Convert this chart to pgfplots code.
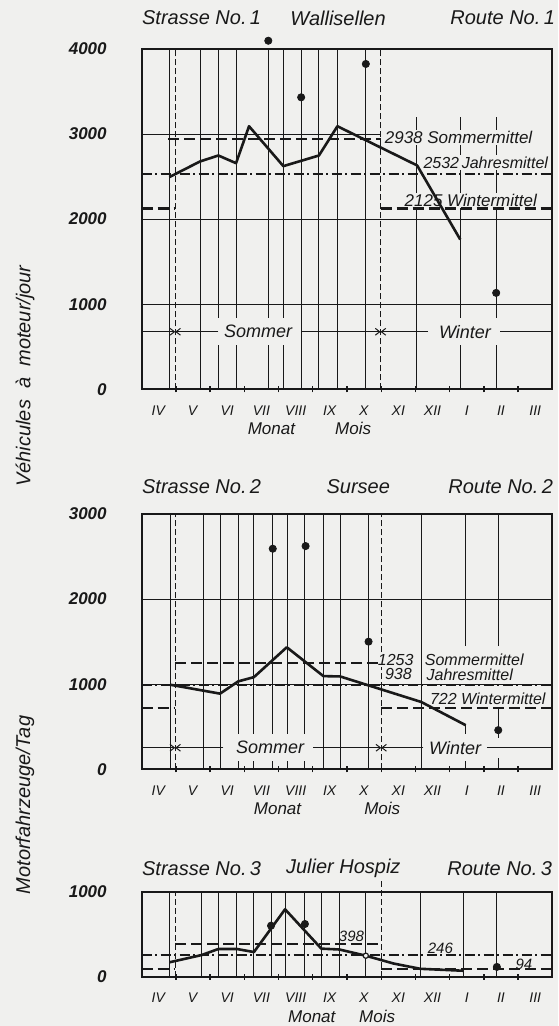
\documentclass[border=0pt]{standalone}
\usepackage{fontspec}
\setmainfont{Liberation Sans}
\usepackage{pgfplots}
\pgfplotsset{compat=1.18}
\usetikzlibrary{arrows.meta}
\definecolor{paper}{RGB}{240,240,238}
\definecolor{ink}{RGB}{25,25,25}

\pgfplotsset{
  chart/.style={
    scale only axis, width=205.3pt,
    xmin=0, xmax=12, ymin=0,
    clip=false,
    axis line style={line width=0.95pt, ink},
    xtick={0.5,1.5,...,11.5},
    xticklabels={\textit{IV},\textit{V},\textit{VI},\textit{VII},\textit{VIII},\textit{IX},\textit{X},\textit{XI},\textit{XII},\textit{I},\textit{II},\textit{III}},
    xticklabel style={font=\fontsize{7}{8}\selectfont, yshift=-4.7pt, text=ink},
    minor xtick={1,...,11},
    major tick length=0pt, minor tick length=3pt,
    tick align=center,
    xtick pos=bottom, ytick pos=left,
    minor tick style={line width=0.7pt, ink},
    yticklabel style={font=\fontsize{8.5}{10}\selectfont, xshift=-14pt, text=ink},
  },
}
\tikzset{
  vline/.style={line width=0.5pt, ink},
  season/.style={line width=0.55pt, ink, dash pattern=on 3pt off 1.5pt},
  mean/.style={line width=1.15pt, ink, dash pattern=on 5.5pt off 2.5pt},
  yearmean/.style={line width=1.1pt, ink, dash pattern=on 5pt off 1.8pt on 0.9pt off 1.8pt},
  curve/.style={line width=1.3pt, ink, line join=round},
  lbl/.style={font=\itshape\fontsize{8.5}{10}\selectfont, fill=paper, inner sep=0.6pt, text=ink},
  seas/.style={font=\itshape\fontsize{9}{10}\selectfont, fill=paper, inner xsep=4pt, inner ysep=3.5pt, text=ink},
  ttl/.style={font=\itshape\fontsize{10}{12}\selectfont, inner sep=0pt, text=ink},
  xl/.style={font=\itshape\fontsize{8.5}{10}\selectfont, inner sep=0pt, text=ink},
  arr/.style={line width=0.5pt, ink, -{Straight Barb[length=2.2pt,width=3.4pt]}},
}

\begin{document}
\begin{tikzpicture}
\useasboundingbox (0,0) rectangle (279pt,513pt);
\fill[paper] (0,0) rectangle (279pt,513pt);

\node[rotate=90, font=\itshape\fontsize{10}{12}\selectfont, text=ink] at (12.5pt,325pt) {Véhicules\ \ à\ \ moteur/jour};
\node[rotate=90, font=\itshape\fontsize{10}{12}\selectfont, text=ink] at (12.5pt,110.5pt) {Motorfahrzeuge/Tag};

% ---------------- Panel 1 ----------------
\begin{axis}[chart, at={(70.85pt,318.35pt)}, anchor=south west, height=170.15pt, ymax=4000,
  ytick={0,1000,2000,3000,4000},
  yticklabels={\textbf{\textit{0}},\textbf{\textit{1000}},\textbf{\textit{2000}},\textbf{\textit{3000}},\textbf{\textit{4000}}}]
\draw[vline] (0,1000) -- (12,1000);
\draw[vline] (0,2000) -- (12,2000);
\draw[vline] (0,3000) -- (6.98,3000);
\addplot[ycomb, vline, mark=none] coordinates {(0.807,4000) (1.705,4000) (2.24,4000) (2.757,4000) (3.70,4000) (4.14,4000) (4.66,4000) (5.18,4000) (5.72,4000) (6.55,4000) (8.02,3200) (9.31,3200) (10.36,3200)};
\draw[season] (0.98,0) -- (0.98,4000);
\draw[season] (6.98,0) -- (6.98,4000);
\node[lbl, anchor=west] at (7.06,2963) {2938 Sommermittel};
\node[lbl, anchor=west, font=\itshape\fontsize{8}{10}\selectfont] at (8.19,2666) {2532\,Jahresmittel};
\node[lbl, anchor=west] at (7.64,2221) {2125 Wintermittel};
\node[seas] at (3.40,676) {Sommer};
\node[seas] at (9.45,676) {Winter};
\draw[arr] (0,676) -- (0.98,676);
\draw[arr] (2.24,676) -- (0.98,676);
\draw[arr] (4.68,676) -- (6.98,676);
\draw[arr] (8.37,676) -- (6.98,676);
\draw[vline] (10.48,676) -- (12,676);
\addplot[mean, mark=none] coordinates {(0.78,2938) (6.98,2938)};
\addplot[yearmean, mark=none] coordinates {(0,2532) (12,2532)};
\addplot[mean, mark=none] coordinates {(0,2125) (0.98,2125)};
\addplot[mean, mark=none] coordinates {(6.98,2125) (12,2125)};
\addplot[curve, mark=none] coordinates {(0.807,2494) (1.705,2678) (2.24,2748) (2.757,2658) (3.137,3092) (4.14,2623) (5.18,2748) (5.72,3092) (8.05,2631) (9.31,1760)};
\addplot[only marks, mark=*, mark size=1.8pt, ink] coordinates {(3.70,4097) (4.66,3432) (6.55,3824) (10.36,1133)};
\node[ttl, anchor=west, yshift=15.5pt] at (rel axis cs:0,1) {Strasse No.\,1};
\node[ttl, yshift=15.5pt] at (5.74,4000) {Wallisellen};
\node[ttl, anchor=east, yshift=15.5pt, xshift=1.5pt] at (rel axis cs:1,1) {Route No.\,1};
\node[xl, yshift=-19.5pt] at (3.79,0) {Monat};
\node[xl, yshift=-19.5pt] at (6.18,0) {Mois};
\end{axis}

% ---------------- Panel 2 ----------------
\begin{axis}[chart, at={(70.85pt,128.35pt)}, anchor=south west, height=127.65pt, ymax=3000,
  ytick={0,1000,2000,3000},
  yticklabels={\textbf{\textit{0}},\textbf{\textit{1000}},\textbf{\textit{2000}},\textbf{\textit{3000}}}]
\draw[vline] (0,1000) -- (12,1000);
\draw[vline] (0,2000) -- (12,2000);
\addplot[ycomb, vline, mark=none] coordinates {(0.83,3000) (1.80,3000) (2.31,3000) (2.83,3000) (3.28,3000) (3.83,3000) (4.26,3000) (4.77,3000) (5.31,3000) (5.80,3000) (6.63,3000) (8.17,3000)};
\draw[vline] (9.47,1446) -- (9.47,3000);
\draw[vline] (9.47,518) -- (9.47,0);
\draw[vline] (10.42,1446) -- (10.42,3000);
\draw[vline] (10.42,722) -- (10.42,370);
\draw[vline] (10.42,130) -- (10.42,0);
\draw[season] (0.98,0) -- (0.98,3000);
\draw[season] (7,0) -- (7,3000);
\node[lbl, anchor=east, font=\itshape\fontsize{8}{10}\selectfont] at (7.99,1287) {1253};
\node[lbl, anchor=west, font=\itshape\fontsize{8}{10}\selectfont] at (8.23,1287) {Sommermittel};
\node[lbl, anchor=east, font=\itshape\fontsize{8}{10}\selectfont] at (7.94,1115) {938};
\node[lbl, anchor=west, font=\itshape\fontsize{8}{10}\selectfont] at (8.28,1115) {Jahresmittel};
\node[lbl, anchor=west, font=\itshape\fontsize{8}{10}\selectfont] at (8.38,830) {722 Wintermittel};
\node[seas] at (3.75,253) {Sommer};
\node[seas, inner xsep=2pt] at (9.16,253) {Winter};
\draw[arr] (0,253) -- (0.98,253);
\draw[arr] (2.39,253) -- (0.98,253);
\draw[arr] (5.01,253) -- (7,253);
\draw[arr] (8.23,253) -- (7,253);
\draw[vline] (10.09,253) -- (12,253);
\addplot[mean, mark=none] coordinates {(0.98,1253) (7,1253)};
\addplot[yearmean, mark=none] coordinates {(0,990) (12,990)};
\addplot[mean, mark=none] coordinates {(0,722) (0.98,722)};
\addplot[mean, mark=none] coordinates {(7,722) (12,722)};
\addplot[curve, mark=none] coordinates {(0.83,994) (2.29,889) (2.82,1033) (3.28,1083) (4.24,1434) (5.31,1095) (5.80,1091) (8.17,791) (9.47,518)};
\addplot[only marks, mark=*, mark size=1.8pt, ink] coordinates {(3.83,2592) (4.79,2623) (6.63,1500) (10.42,460)};
\node[ttl, anchor=west, yshift=13.5pt] at (rel axis cs:0,1) {Strasse No.\,2};
\node[ttl, yshift=13.5pt] at (6.33,3000) {Sursee};
\node[ttl, anchor=east, yshift=13.5pt, xshift=0.5pt] at (rel axis cs:1,1) {Route No.\,2};
\node[xl, yshift=-19.5pt] at (3.97,0) {Monat};
\node[xl, yshift=-19.5pt] at (7.03,0) {Mois};
\end{axis}

% ---------------- Panel 3 ----------------
\begin{axis}[chart, at={(70.85pt,24.65pt)}, anchor=south west, height=42.5pt, ymax=1000,
  ytick={0,1000},
  yticklabels={\textbf{\textit{0}},\textbf{\textit{1000}}}]
\addplot[ycomb, vline, mark=none] coordinates {(0.807,1000) (1.754,1000) (2.24,1000) (2.78,1000) (3.28,1000) (3.78,1000) (4.19,1000) (4.75,1000) (5.25,1000) (5.78,1000) (6.55,1000) (8.14,1000) (9.40,1000) (10.38,1000)};
\draw[season] (0.98,0) -- (0.98,1000);
\draw[season] (7,0) -- (7,1150);
\addplot[mean, line width=1pt, mark=none] coordinates {(0.98,390) (7,390)};
\addplot[yearmean, line width=1pt, mark=none] coordinates {(0,250) (12,250)};
\addplot[mean, line width=1pt, mark=none] coordinates {(0,95) (0.98,95)};
\addplot[mean, line width=1pt, mark=none] coordinates {(7,85) (12,85)};
\addplot[curve, mark=none] coordinates {(0.807,169) (1.754,255) (2.24,326) (2.78,326) (3.28,290) (4.19,793) (5.25,330) (5.78,320) (6.55,247) (7.36,155) (8.14,93) (9.40,70)};
\addplot[only marks, mark=*, mark size=1.8pt, ink] coordinates {(3.78,600) (4.77,620) (10.38,115)};
\addplot[only marks, mark=*, mark size=1.3pt, ink, mark options={fill=paper, line width=0.6pt}] coordinates {(6.55,247)};
\node[font=\itshape\fontsize{7.5}{9}\selectfont, inner sep=0pt, text=ink] at (6.13,470) {398};
\node[font=\itshape\fontsize{7.5}{9}\selectfont, inner sep=0pt, text=ink] at (8.73,338) {246};
\node[font=\itshape\fontsize{7.5}{9}\selectfont, inner sep=0pt, text=ink] at (11.17,150) {94};
\node[ttl, anchor=west, yshift=11.7pt] at (rel axis cs:0,1) {Strasse No.\,3};
\node[ttl, yshift=11.7pt] at (5.89,1000) {Julier Hospiz};
\node[ttl, anchor=east, yshift=11.7pt] at (rel axis cs:1,1) {Route No.\,3};
\node[xl, yshift=-20pt] at (4.97,0) {Monat};
\node[xl, yshift=-20pt] at (6.88,0) {Mois};
\end{axis}
\end{tikzpicture}
\end{document}
